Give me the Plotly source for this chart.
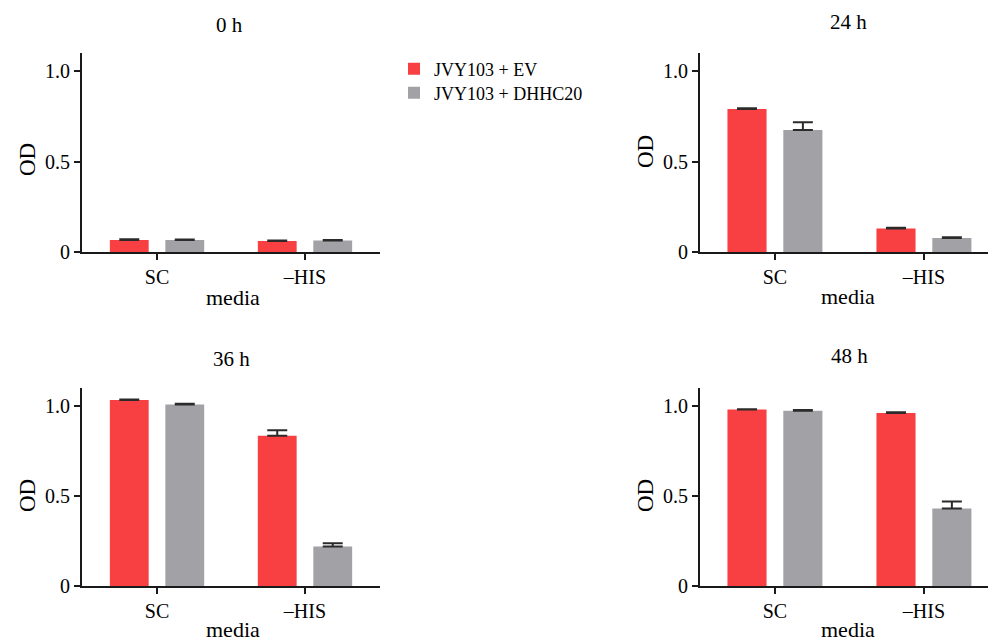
import plotly.graph_objects as go

categories = ["SC", "–HIS"]
panels = ["0 h", "24 h", "36 h", "48 h"]
series_names = ["JVY103 + EV", "JVY103 + DHHC20"]

ev_values = {
    "0 h": [0.067, 0.061],
    "24 h": [0.790, 0.130],
    "36 h": [1.033, 0.835],
    "48 h": [0.980, 0.961],
}
ev_errors = {
    "0 h": [0.003, 0.003],
    "24 h": [0.004, 0.004],
    "36 h": [0.003, 0.030],
    "48 h": [0.002, 0.004],
}
dh_values = {
    "0 h": [0.066, 0.063],
    "24 h": [0.674, 0.078],
    "36 h": [1.009, 0.219],
    "48 h": [0.974, 0.430],
}
dh_errors = {
    "0 h": [0.003, 0.003],
    "24 h": [0.043, 0.003],
    "36 h": [0.003, 0.018],
    "48 h": [0.004, 0.040],
}
y_ticks = [0, 0.5, 1.0]
y_ticktext = ["0", "0.5", "1.0"]

RED = "#F84043"
GRAY = "#A2A1A6"
ERR = "#2b2b2b"
AXC = "#1a1a1a"
FONT = "Liberation Serif"
W, H = 988, 644

# pixel boxes for each panel: (x0, x1, ytop, ybottom)
boxes = {
    "0 h": (82, 380, 53, 252),
    "24 h": (700, 988, 53, 252),
    "36 h": (82, 380, 388, 586),
    "48 h": (700, 988, 388, 586),
}
x_ranges = {
    "0 h": [-0.507, 1.507],
    "24 h": [-0.503, 1.43],
    "36 h": [-0.507, 1.507],
    "48 h": [-0.503, 1.43],
}
title_pos = {
    "0 h": (229, 25),
    "24 h": (848, 22),
    "36 h": (231, 359),
    "48 h": (849, 356),
}
# (x, y, anchor) ; bottom-row labels sit on the page's lower edge
media_pos = {
    "0 h": (233, 298, "middle"),
    "24 h": (848, 296, "middle"),
    "36 h": (233, 644, "bottom"),
    "48 h": (848, 644, "bottom"),
}
od_pos = {
    "0 h": (27, 160),
    "24 h": (645, 152),
    "36 h": (27, 496),
    "48 h": (645, 496),
}
legend_rows = [("legend", 69), ("legend2", 93)]

fig = go.Figure()
annotations = []
for i, p in enumerate(panels):
    ax = "" if i == 0 else str(i + 1)
    x0, x1, yt, yb = boxes[p]
    fig.add_trace(go.Bar(
        x=categories, y=ev_values[p], name=series_names[0],
        marker=dict(color=RED, line=dict(width=0)),
        error_y=dict(type="data", array=ev_errors[p], arrayminus=[0, 0], symmetric=False,
                     color=ERR, thickness=2, width=10),
        xaxis="x" + ax, yaxis="y" + ax, showlegend=(i == 0), legend="legend",
    ))
    fig.add_trace(go.Bar(
        x=categories, y=dh_values[p], name=series_names[1],
        marker=dict(color=GRAY, line=dict(width=0)),
        error_y=dict(type="data", array=dh_errors[p], arrayminus=[0, 0], symmetric=False,
                     color=ERR, thickness=2, width=10),
        xaxis="x" + ax, yaxis="y" + ax, showlegend=(i == 0), legend="legend2",
    ))
    fig.update_layout(**{
        "xaxis" + ax: dict(
            domain=[x0 / W, x1 / W], anchor="y" + ax, range=x_ranges[p],
            automargin=False,
            showline=True, linecolor=AXC, linewidth=2,
            ticks="outside", ticklen=6, tickwidth=2, tickcolor=AXC,
            showgrid=False, zeroline=False,
            tickfont=dict(family=FONT, size=20, color="black"),
        ),
        "yaxis" + ax: dict(
            domain=[(H - yb) / H, (H - yt) / H], anchor="x" + ax, range=[0, 1.1],
            automargin=False,
            showline=True, linecolor=AXC, linewidth=2,
            ticks="outside", ticklen=6, tickwidth=2, tickcolor=AXC,
            tickvals=y_ticks, ticktext=y_ticktext,
            showgrid=False, zeroline=False,
            tickfont=dict(family=FONT, size=20, color="black"),
        ),
    })
    tx, ty = title_pos[p]
    annotations.append(dict(text=p, x=tx / W, y=1 - ty / H, xref="paper", yref="paper",
                            showarrow=False, xanchor="center", yanchor="middle",
                            font=dict(family=FONT, size=21, color="black")))
    mx, my, manchor = media_pos[p]
    annotations.append(dict(text="media", x=mx / W, y=1 - my / H, xref="paper", yref="paper",
                            showarrow=False, xanchor="center", yanchor=manchor,
                            font=dict(family=FONT, size=22, color="black")))
    ox, oy = od_pos[p]
    annotations.append(dict(text="OD", x=ox / W, y=1 - oy / H,
                            xref="paper", yref="paper", textangle=-90,
                            showarrow=False, xanchor="center", yanchor="middle",
                            font=dict(family=FONT, size=23, color="black")))

legend_style = dict(xanchor="left", yanchor="middle",
                    font=dict(family=FONT, size=18, color="black"),
                    bgcolor="rgba(0,0,0,0)", itemwidth=30)
fig.update_layout(
    width=W, height=H,
    margin=dict(l=0, r=0, t=0, b=0, autoexpand=False),
    paper_bgcolor="white", plot_bgcolor="white",
    barmode="group", bargap=0.25, bargroupgap=0.3,
    annotations=annotations,
    font=dict(family=FONT, color="black"),
    showlegend=True,
)
for name, row_y in legend_rows:
    fig.update_layout(**{name: dict(x=394 / W, y=1 - row_y / H, **legend_style)})

fig.write_html(
    "out.html",
    config={"displayModeBar": False},
    post_script=(
        "document.documentElement.style.overflow='hidden';"
        "document.body.style.margin='0';"
        "document.body.style.overflow='hidden';"
    ),
)
